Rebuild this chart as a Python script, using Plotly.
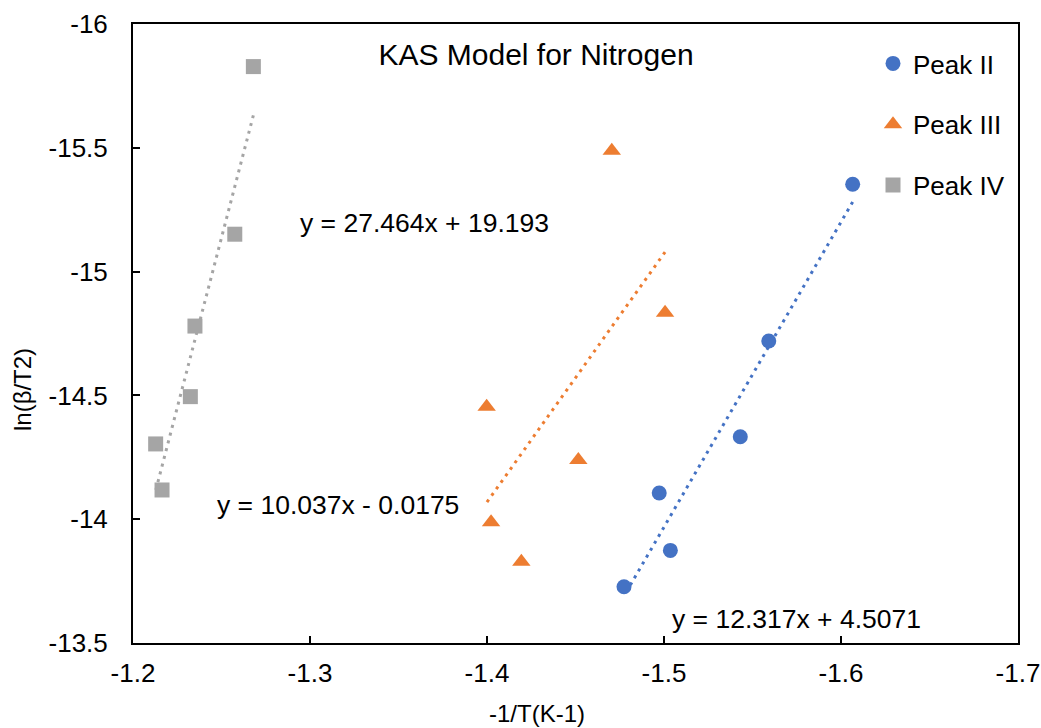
import numpy as np
import plotly.graph_objects as go

# ---------------- data ----------------
peak2_x = [-1.6066, -1.5592, -1.5431, -1.4973, -1.5036, -1.4774]
peak2_y = [-15.353, -14.720, -14.333, -14.106, -13.874, -13.727]

peak3_x = [-1.4705, -1.5006, -1.3998, -1.4516, -1.4023, -1.4194]
peak3_y = [-15.488, -14.834, -14.454, -14.239, -13.988, -13.828]

peak4_x = [-1.2680, -1.2575, -1.2350, -1.2324, -1.2128, -1.2164]
peak4_y = [-15.828, -15.151, -14.780, -14.495, -14.304, -14.118]

series_names = ["Peak II", "Peak III", "Peak IV"]
trend_slopes = [12.317, 10.037, 27.464]
trend_intercepts = [4.5071, -0.0175, 19.193]
trend_labels = ["y = 12.317x + 4.5071", "y = 10.037x - 0.0175", "y = 27.464x + 19.193"]

x_tick_vals = [-1.2, -1.3, -1.4, -1.5, -1.6, -1.7]
x_tick_text = ["-1.2", "-1.3", "-1.4", "-1.5", "-1.6", "-1.7"]
y_tick_vals = [-16, -15.5, -15, -14.5, -14, -13.5]
y_tick_text = ["-16", "-15.5", "-15", "-14.5", "-14", "-13.5"]

title_text = "KAS Model for Nitrogen"
x_title = "-1/T(K-1)"
y_title = "ln(β/T2)"

# ---------------- figure ----------------
FONT = "Arial, 'Liberation Sans', sans-serif"
colors = ["#4472C4", "#ED7D31", "#A5A5A5"]
symbols = ["circle", "triangle-up", "square"]
msizes = [15, 16, 15]
xs = [peak2_x, peak3_x, peak4_x]
ys = [peak2_y, peak3_y, peak4_y]

fig = go.Figure()

# trendlines (from fitted equations)
for i in range(3):
    lx = np.array([min(xs[i]), max(xs[i])])
    ly = trend_slopes[i] * lx + trend_intercepts[i]
    fig.add_trace(go.Scatter(
        x=lx, y=ly, mode="lines", showlegend=False, hoverinfo="skip",
        line=dict(color=colors[i], width=3, dash="3px,5px"),
    ))

for i in range(3):
    fig.add_trace(go.Scatter(
        x=xs[i], y=ys[i], mode="markers", name=series_names[i],
        legendgroup=series_names[i],
        marker=dict(color=colors[i], symbol=symbols[i], size=msizes[i], line=dict(width=0)),
    ))

L, R, T, B = 133, 23, 24, 85
W, H = 1041, 728

axis_common = dict(
    showgrid=False, zeroline=False, showline=True, linecolor="black", linewidth=2,
    mirror=True, ticks="inside", ticklen=7, tickwidth=1.5, tickcolor="black",
    automargin=False,
    tickfont=dict(family=FONT, size=26, color="black"),
)

fig.update_layout(
    width=W, height=H,
    margin=dict(l=L, r=R, t=T, b=B, pad=0, autoexpand=False),
    paper_bgcolor="white", plot_bgcolor="white",
    font=dict(family=FONT, color="black"),
    title=dict(text=title_text, x=0.4554, y=0.9505, xref="paper", yref="paper",
               xanchor="center", yanchor="middle",
               font=dict(family=FONT, size=30, color="black")),
    xaxis=dict(range=[-1.2, -1.7], tickmode="array", tickvals=x_tick_vals,
               ticktext=x_tick_text, ticklabelstandoff=6, **axis_common),
    yaxis=dict(range=[-13.5, -16], tickmode="array", tickvals=y_tick_vals,
               ticktext=y_tick_text, ticklabelstandoff=18, **axis_common),
    legend=dict(x=(873 - L) / (W - L - R), y=(643 - 40) / (H - T - B),
                xanchor="left", yanchor="top", xref="paper", yref="paper",
                bgcolor="rgba(0,0,0,0)", borderwidth=0, tracegroupgap=24,
                itemwidth=30,
                font=dict(family=FONT, size=26, color="black")),
    showlegend=True,
)

ann = []
# equation labels
eq_pos = [(-1.5751, -13.597), (-1.3157, -14.057), (-1.3647, -15.196)]
for i in range(3):
    ann.append(dict(x=eq_pos[i][0], y=eq_pos[i][1], xref="x", yref="y",
                    text=trend_labels[i], showarrow=False,
                    xanchor="center", yanchor="middle",
                    font=dict(family=FONT, size=26.5, color="black")))
# axis titles
ann.append(dict(x=0.4565, y=-0.114, xref="paper", yref="paper", text=x_title,
                showarrow=False, xanchor="center", yanchor="middle",
                font=dict(family=FONT, size=24, color="black")))
ann.append(dict(x=-0.1254, y=0.4087, xref="paper", yref="paper", text=y_title,
                showarrow=False, xanchor="center", yanchor="middle", textangle=-90,
                font=dict(family=FONT, size=24, color="black")))
fig.update_layout(annotations=ann)

fig.write_html("out.html")
